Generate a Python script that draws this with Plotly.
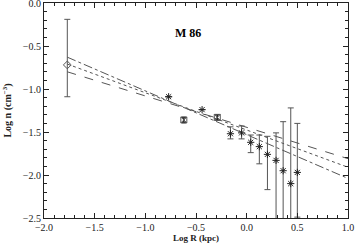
import plotly.graph_objects as go

# ---- data ----
diamond_x = [-1.77]
diamond_y = [-0.72]
diamond_err_plus = [0.53]
diamond_err_minus = [0.37]

square_x = [-0.62, -0.29]
square_y = [-1.36, -1.33]
square_err = [0.03, 0.03]

star_x = [-0.77, -0.44, -0.16, -0.05, 0.04, 0.125, 0.205, 0.29, 0.36, 0.435, 0.50]
star_y = [-1.09, -1.24, -1.52, -1.51, -1.62, -1.67, -1.76, -1.83, -1.95, -2.10, -1.97]
star_err_plus = [0.0, 0.0, 0.08, 0.08, 0.085, 0.135, 0.21, 0.32, 0.57, 0.88, 0.57]
star_err_minus = [0.0, 0.0, 0.06, 0.07, 0.12, 0.20, 0.41, 1.00, 1.00, 1.00, 0.52]

fit_x = [-1.77, 1.0]
fit_dashdot = [-0.63, -2.04]
fit_dotted = [-0.71, -1.91]
fit_dashed = [-0.80, -1.81]

x_ticks = [-2.0, -1.5, -1.0, -0.5, 0.0, 0.5, 1.0]
x_ticklabels = ["\u22122.0", "\u22121.5", "\u22121.0", "\u22120.5", "0.0", "0.5", "1.0"]
y_ticks = [0.0, -0.5, -1.0, -1.5, -2.0, -2.5]
y_ticklabels = ["0.0", "\u22120.5", "\u22121.0", "\u22121.5", "\u22122.0", "\u22122.5"]

FONT = "Liberation Serif"
INK = "#222222"
GREY = "#555555"

fig = go.Figure()

for ys, dash in [(fit_dashdot, "dashdot"), (fit_dotted, "dot"), (fit_dashed, "dash")]:
    fig.add_trace(go.Scatter(x=fit_x, y=ys, mode="lines",
                             line=dict(color=GREY, width=1, dash=dash),
                             showlegend=False, hoverinfo="skip"))

fig.add_trace(go.Scatter(
    x=diamond_x, y=diamond_y, mode="markers",
    marker=dict(symbol="diamond-open", size=6, color=GREY, line=dict(width=1, color=GREY)),
    error_y=dict(type="data", symmetric=False, array=diamond_err_plus,
                 arrayminus=diamond_err_minus, color=GREY, thickness=1, width=3),
    showlegend=False))

fig.add_trace(go.Scatter(
    x=square_x, y=square_y, mode="markers",
    marker=dict(symbol="square-x-open", size=6, color=GREY, line=dict(width=1, color=GREY)),
    error_y=dict(type="data", array=square_err, color=INK, thickness=1.5, width=2),
    showlegend=False))

fig.add_trace(go.Scatter(
    x=star_x, y=star_y, mode="markers",
    marker=dict(symbol="asterisk-open", size=6, color=INK, line=dict(width=1, color=INK)),
    error_y=dict(type="data", symmetric=False, array=star_err_plus,
                 arrayminus=star_err_minus, color=GREY, thickness=1, width=3),
    showlegend=False))

fig.add_annotation(x=-0.58, y=-0.35, xref="x", yref="y", text="<b>M 86</b>",
                   showarrow=False, font=dict(family=FONT, size=12, color="black"))

axis_common = dict(
    showgrid=False, zeroline=False, showline=True, linecolor=INK, linewidth=1,
    mirror="ticks", ticks="inside", ticklen=5, tickcolor=INK,
    tickfont=dict(family=FONT, size=10, color=INK),
    automargin=False, ticklabeloverflow="allow",
)

fig.update_xaxes(range=[-2.0, 1.0], tickvals=x_ticks, ticktext=x_ticklabels,
                 minor=dict(dtick=0.1, ticks="inside", ticklen=3, tickcolor=INK),
                 title=dict(text="<b>Log R (kpc)</b>", font=dict(family=FONT, size=9, color=INK),
                            standoff=0),
                 **axis_common)
fig.update_yaxes(range=[-2.5, 0.0], tickvals=y_ticks, ticktext=y_ticklabels,
                 minor=dict(dtick=0.1, ticks="inside", ticklen=3, tickcolor=INK),
                 title=dict(text="<b>Log n (cm<sup>\u22123</sup>)</b>",
                            font=dict(family=FONT, size=10, color=INK), standoff=9),
                 **axis_common)

fig.update_layout(width=357, height=247,
                  margin=dict(l=44, r=9, t=3, b=29, autoexpand=False),
                  plot_bgcolor="white", paper_bgcolor="white")

fig.write_html("out.html", config={"displayModeBar": False, "staticPlot": True},
               post_script="document.body.style.margin='0';document.body.style.overflow='hidden';")
